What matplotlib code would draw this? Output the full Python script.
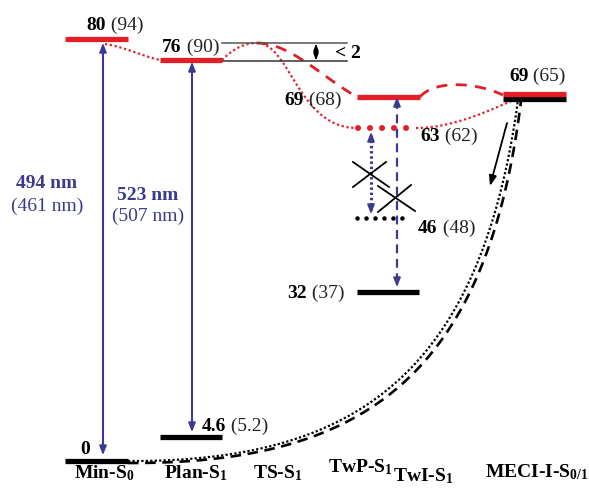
import numpy as np
import matplotlib
matplotlib.use("Agg")
import matplotlib.pyplot as plt

plt.rcParams["font.family"] = ["Liberation Serif", "DejaVu Serif"]
plt.rcParams["mathtext.fontset"] = "custom"
plt.rcParams["mathtext.rm"] = "Liberation Serif"
plt.rcParams["mathtext.bf"] = "Liberation Serif:bold"
plt.rcParams["mathtext.default"] = "bf"

# --- data (kcal/mol; values in parentheses from the second method) ---
state_labels = ["Min-S$_0$", "Plan-S$_1$", "TS-S$_1$", "TwP-S$_1$", "TwI-S$_1$", "MECI-I-S$_{0/1}$"]
s1_energy = [80, 76, 69, 63, 69]          # Min(FC), Plan, TwP, TwI, MECI
s1_alt = ["94", "90", "68", "62", "65"]
s0_energy = [0, 4.6, 32, 46, 69]          # Min, Plan, TwP, TwI, MECI
s0_alt = [None, "5.2", "37", "48", None]
abs_nm = ["494", "523"]
abs_nm_alt = ["461", "507"]
ts_barrier = "< 2"

RED = "#e41e26"
BLUE = "#3a3a94"
BLUE_TXT = "#3b3b8c"
FS = 14

# pixel row -> energy (the axis is in energy units)
Y0, SCALE = 461.0, 5.28


def E(ypx):
    return (Y0 - np.asarray(ypx, dtype=float)) / SCALE


def bez(p0, p1, p2, p3, n=120):
    t = np.linspace(0, 1, n)[:, None]
    pts = ((1 - t) ** 3 * np.array(p0) + 3 * (1 - t) ** 2 * t * np.array(p1)
           + 3 * (1 - t) * t ** 2 * np.array(p2) + t ** 3 * np.array(p3))
    return pts[:, 0], E(pts[:, 1])


fig = plt.figure(figsize=(5.89, 4.90), dpi=100)
ax = fig.add_axes([0, 0, 1, 1])
ax.set_xlim(0, 589)
ax.set_ylim(E(490), E(0))
ax.axis("off")

# --- level bars ---
bar_x = {"Min": (65, 128), "Plan": (160, 222), "TwP": (357, 420),
         "TwI": (358, 416), "MECI": (503, 566)}
s0_x = {"Min": (65, 128), "Plan": (160, 222), "TwP": (357, 419),
        "TwI": (357, 410), "MECI": (503, 566)}
keys = ["Min", "Plan", "TwP", "TwI", "MECI"]
for k, e in zip(keys, s1_energy):
    x0, x1 = bar_x[k]
    if k == "TwI":
        ax.plot([x0, x1], [e, e], color=RED, lw=4.3, ls=(0, (0.01, 2.0)),
                dash_capstyle="round", zorder=4)
    elif k == "MECI":
        ax.plot([x0, x1], [e + 0.45, e + 0.45], color=RED, lw=3.8,
                solid_capstyle="butt", zorder=4)
    else:
        ax.plot([x0, x1], [e, e], color=RED, lw=3.8, solid_capstyle="butt", zorder=4)
for k, e in zip(keys, s0_energy):
    x0, x1 = s0_x[k]
    if k == "TwI":
        ax.plot([x0, x1], [e, e], color="black", lw=3.3, ls=(0, (0.01, 1.95)),
                dash_capstyle="round", zorder=4)
    elif k == "MECI":
        ax.plot([x0, x1], [e - 0.45, e - 0.45], color="black", lw=3.8,
                solid_capstyle="butt", zorder=3)
    else:
        ax.plot([x0, x1], [e, e], color="black", lw=3.8, solid_capstyle="butt", zorder=4)

# --- connecting paths ---
dot = (0, (1, 1.2))
dash = (0, (4, 3))
ax.plot(*bez((105, 44), (125, 47), (145, 57), (160, 60)), color=RED, lw=1.6, ls=dot)
ax.plot(*bez((222, 60), (232, 50), (243, 43), (257, 43)), color=RED, lw=1.6, ls=dot)
ax.plot(*bez((257, 43), (290, 43), (322, 77), (357, 97)), color=RED, lw=2.0, ls=dash)
ax.plot(*bez((257, 43), (290, 43), (298, 128), (357, 128)), color=RED, lw=1.6, ls=dot)
ax.plot(*bez((420, 97), (432, 82), (470, 80), (503, 95)), color=RED, lw=2.0, ls=dash)
ax.plot(*bez((416, 128), (450, 128), (485, 113), (520, 97)), color=RED, lw=1.6, ls=dot)
ax.plot(*bez((128, 461), (350, 462), (480, 380), (518, 100)), color="black", lw=1.6, ls=(0, (1, 1)))
ax.plot(*bez((128, 463), (356, 464), (486, 384), (521, 101)), color="black", lw=1.9, ls=(0, (4, 2.5)))

# --- TS barrier marker ---
ax.plot([222, 347], [E(43), E(43)], color="#555555", lw=1.1)
ax.plot([222, 347], [E(61), E(61)], color="#333333", lw=1.1)
ax.annotate("", xy=(316, E(43.5)), xytext=(316, E(60.5)),
            arrowprops=dict(arrowstyle="<|-|>,head_length=0.4,head_width=0.15",
                            color="black", lw=1.1, shrinkA=0, shrinkB=0))
ax.text(335, E(58), ts_barrier, fontsize=FS, fontweight="bold", va="baseline")


# --- vertical transitions ---
def varrow(x, ytop, ybot, ls="-", lw=1.5, heads="both"):
    ax.plot([x, x], [E(ytop + 3), E(ybot - 3)], color=BLUE, lw=lw, ls=ls, zorder=5)
    style = "-|>,head_length=0.55,head_width=0.22"
    if heads in ("both", "top"):
        ax.annotate("", xy=(x, E(ytop)), xytext=(x, E(ytop + 9)),
                    arrowprops=dict(arrowstyle=style, color=BLUE, lw=1.2,
                                    shrinkA=0, shrinkB=0), zorder=6)
    if heads in ("both", "bottom"):
        ax.annotate("", xy=(x, E(ybot)), xytext=(x, E(ybot - 9)),
                    arrowprops=dict(arrowstyle=style, color=BLUE, lw=1.2,
                                    shrinkA=0, shrinkB=0), zorder=6)


varrow(103, 43, 455)
varrow(192, 62, 432)
varrow(371, 132, 214, ls=(0, (0.8, 0.9)), lw=2.2)
varrow(397, 97, 287, ls=(0, (4, 2.5)), lw=1.6)

# forbidden-transfer crosses
for (xa, ya, xb, yb) in [(353, 162, 389, 187), (353, 187, 386, 162),
                         (378, 186, 415, 211), (378, 212, 411, 185)]:
    ax.plot([xa, xb], [E(ya), E(yb)], color="black", lw=1.3, zorder=6)

# relaxation arrow from the MECI
ax.annotate("", xy=(490, E(186)), xytext=(507, E(123)),
            arrowprops=dict(arrowstyle="-|>,head_length=0.6,head_width=0.22",
                            color="black", lw=1.3, shrinkA=0, shrinkB=0))


# --- level labels ---
def two_part(x, ypx, bold, rest, color="black"):
    t = ax.text(x, E(ypx), bold, fontsize=FS, fontweight="bold",
                color=color, va="baseline", ha="left")
    if rest:
        ax.annotate(" (" + rest + ")", xy=(1, 0), xycoords=t, fontsize=FS,
                    color="#222222", va="bottom", ha="left")


fmt = lambda v: f"{v:g}"
s1_pos = [(86, 30), (162, 52), (284, 105), (420, 141), (509, 81)]
s0_pos = [(80, 454), (202, 431), (287, 298), (418, 233), None]
for (x, y), e, alt in zip(s1_pos, s1_energy, s1_alt):
    two_part(x, y, fmt(e), alt)
for pos, e, alt in zip(s0_pos, s0_energy, s0_alt):
    if pos is not None:
        two_part(pos[0], pos[1], fmt(e), alt)

# absorption wavelengths
for (x, yb, ya), nm, alt in zip([(47, 188, 211), (148, 200, 221)], abs_nm, abs_nm_alt):
    ax.text(x, E(yb), f"{nm} nm", fontsize=FS, fontweight="bold", color=BLUE_TXT,
            ha="center", va="baseline")
    ax.text(x, E(ya), f"({alt} nm)", fontsize=FS, color=BLUE_TXT,
            ha="center", va="baseline")

# state names along the bottom
name_pos = [(104, 478), (196, 478), (278, 478), (360, 472), (423, 481), (537, 477)]
for (x, y), name in zip(name_pos, state_labels):
    ax.text(x, E(y), name, fontsize=FS, fontweight="bold", ha="center", va="baseline")

fig.savefig("out.png", dpi=100, facecolor="white")
